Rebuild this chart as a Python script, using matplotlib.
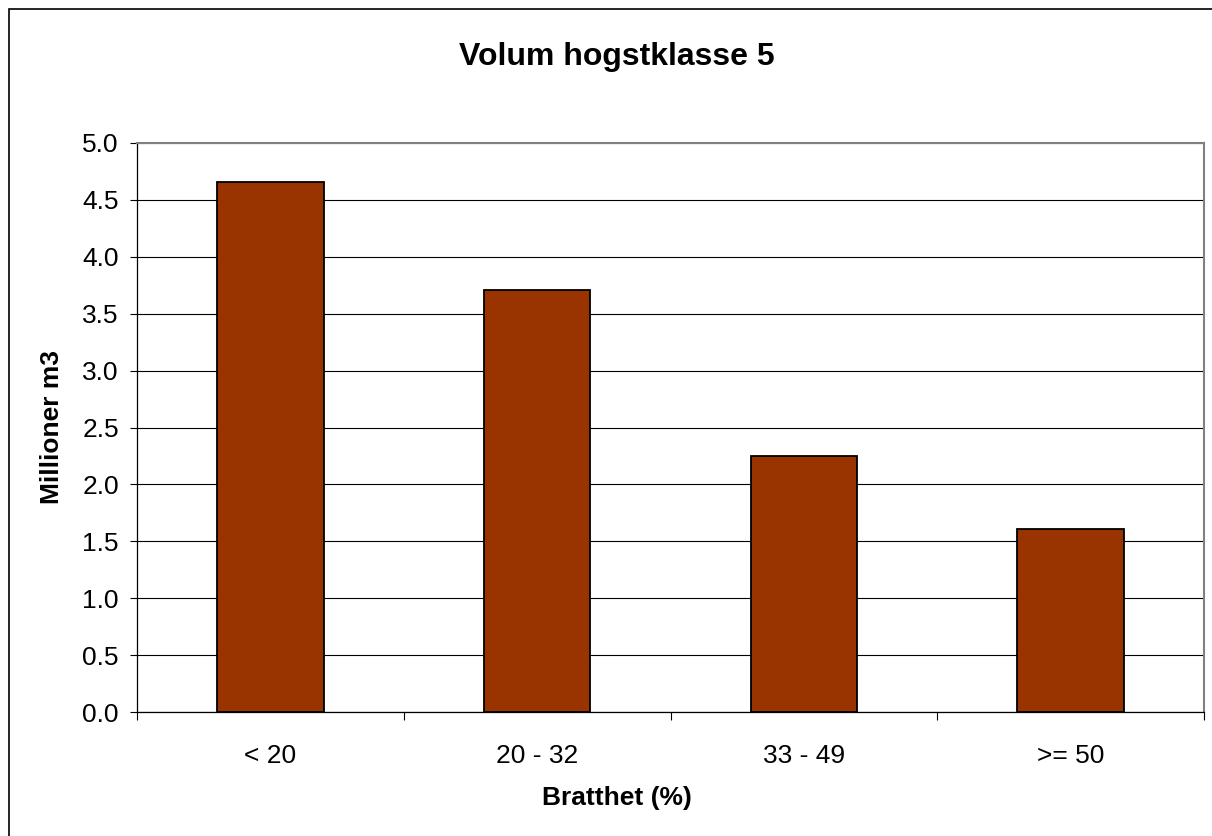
import numpy as np
import matplotlib
matplotlib.use('Agg')
import matplotlib.pyplot as plt
from matplotlib.patches import Rectangle

# data
categories = ['< 20', '20 - 32', '33 - 49', '>= 50']
volumes = [4.66, 3.71, 2.25, 1.61]   # millioner m3
yticks = np.arange(0, 5.01, 0.5)

plt.rcParams['font.family'] = ['Liberation Sans', 'DejaVu Sans']

W, H = 1212, 836
fig = plt.figure(figsize=(W / 100, H / 100), dpi=100)

# plot area in pixels: left 137, right 1204, top 143, bottom 712
ax = fig.add_axes([137 / W, 1 - 712 / H, (1204 - 137) / W, (712 - 143) / H])

x = np.arange(len(categories))
ax.bar(x, volumes, width=0.4, color='#993300', edgecolor='black',
       linewidth=1.3, zorder=3)

ax.set_xlim(-0.5, len(categories) - 0.5)
ax.set_ylim(0, 5)
ax.set_yticks(yticks)
ax.set_yticklabels(['%.1f' % v for v in yticks])
ax.yaxis.grid(True, color='black', linewidth=0.8, zorder=0)
ax.set_axisbelow(True)

# tick marks on category boundaries, labels in the middle
ax.set_xticks(np.arange(-0.5, len(categories), 1))
ax.set_xticklabels([])
ax.set_xticks(x, minor=True)
ax.set_xticklabels(categories, minor=True)
ax.tick_params(axis='x', which='major', direction='out', length=6, width=0.8)
ax.tick_params(axis='x', which='minor', length=0, pad=23, labelsize=19)
ax.tick_params(axis='y', direction='out', length=5, width=0.8, pad=8, labelsize=19)

for s in ['top', 'right']:
    ax.spines[s].set_color('#808080')
    ax.spines[s].set_linewidth(1.5)
for s in ['bottom', 'left']:
    ax.spines[s].set_color('black')
    ax.spines[s].set_linewidth(0.9)

ax.set_xlabel('Bratthet (%)', fontsize=19, fontweight='bold', va='center')
ax.set_ylabel('Millioner m3', fontsize=19, fontweight='bold', va='center')
ax.xaxis.set_label_coords((617 - 137) / (1204 - 137), (712 - 798) / (712 - 143))
ax.yaxis.set_label_coords((52 - 137) / (1204 - 137), 0.5)

fig.text(617 / W, 1 - 57 / H, 'Volum hogstklasse 5', ha='center', va='center',
         fontsize=23, fontweight='bold')

# chart border (only top and left edges fall inside the image)
fig.patches.append(Rectangle((9 / W, -0.1), 1.2, 1 - 9 / H + 0.1,
                             transform=fig.transFigure, fill=False,
                             edgecolor='black', linewidth=1.2))

fig.savefig('out.png', dpi=100)
